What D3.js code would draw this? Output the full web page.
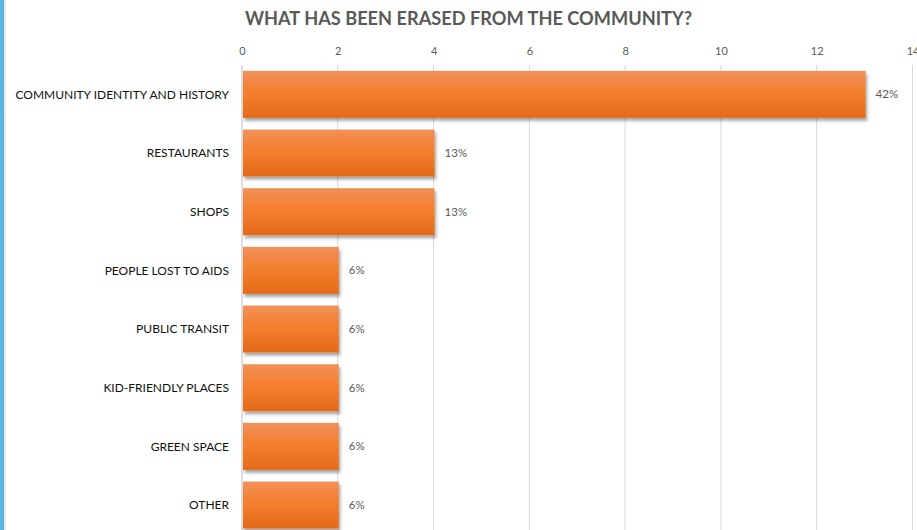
<!DOCTYPE html>
<html>
<head>
<meta charset="utf-8">
<script src="https://cdn.jsdelivr.net/npm/d3@7"></script>
<style>
  html, body { margin: 0; padding: 0; background: #fff; }
  svg { display: block; }
</style>
</head>
<body>
<svg id="chart" width="917" height="530"></svg>
<script>
// Responses: what has been erased from the community
const categories = [
  "COMMUNITY IDENTITY AND HISTORY",
  "RESTAURANTS",
  "SHOPS",
  "PEOPLE LOST TO AIDS",
  "PUBLIC TRANSIT",
  "KID-FRIENDLY PLACES",
  "GREEN SPACE",
  "OTHER"
];
const counts = [13, 4, 4, 2, 2, 2, 2, 2];
const xTicks = [0, 2, 4, 6, 8, 10, 12, 14];
const title = "WHAT HAS BEEN ERASED FROM THE COMMUNITY?";

const W = 917, H = 530;
const margin = { left: 242, right: 5, top: 65 };
const svg = d3.select("#chart");

// left accent strip
svg.append("rect").attr("x", 0).attr("y", 0).attr("width", 4).attr("height", H).attr("fill", "#5AB4E3");
svg.append("rect").attr("x", 4).attr("y", 0).attr("width", 1.5).attr("height", H).attr("fill", "#e3e3e3");

const defs = svg.append("defs");
const grad = defs.append("linearGradient").attr("id", "barGrad")
  .attr("x1", 0).attr("y1", 0).attr("x2", 0).attr("y2", 1);
grad.append("stop").attr("offset", "0%").attr("stop-color", "#F1905A");
grad.append("stop").attr("offset", "45%").attr("stop-color", "#F47F2E");
grad.append("stop").attr("offset", "100%").attr("stop-color", "#E36A17");

const shadow = defs.append("filter").attr("id", "barShadow")
  .attr("x", "-5%").attr("y", "-20%").attr("width", "115%").attr("height", "150%");
shadow.append("feDropShadow").attr("dx", 1.5).attr("dy", 3).attr("stdDeviation", 1.8)
  .attr("flood-color", "#000").attr("flood-opacity", 0.35);

const x = d3.scaleLinear().domain([0, 14]).range([margin.left, 912.5]);
const y = d3.scaleBand().domain(categories)
  .range([margin.top, margin.top + 8 * 58.67])
  .paddingInner(0.2).paddingOuter(0.1);

// title
svg.append("text")
  .attr("x", 468.5).attr("y", 25)
  .attr("text-anchor", "middle")
  .attr("font-family", "Lato, 'Open Sans', sans-serif")
  .attr("font-weight", "bold")
  .attr("font-size", 18.2)
  .attr("fill", "#595959")
  .text(title);

// vertical gridlines
svg.append("g").selectAll("line").data(xTicks.slice(1)).join("line")
  .attr("x1", d => x(d)).attr("x2", d => x(d))
  .attr("y1", margin.top).attr("y2", H)
  .attr("stroke", "#d9d9d9").attr("stroke-width", 1);

// top axis tick labels
const axis = d3.axisTop(x).tickValues(xTicks).tickSize(0).tickPadding(0);
const gAxis = svg.append("g").attr("transform", "translate(0,55)").call(axis);
gAxis.select(".domain").remove();
gAxis.selectAll("text")
  .attr("font-family", "Lato, sans-serif")
  .attr("font-size", 11)
  .attr("fill", "#595959");

// category axis line
svg.append("line")
  .attr("x1", x(0)).attr("x2", x(0)).attr("y1", margin.top).attr("y2", H)
  .attr("stroke", "#bfbfbf").attr("stroke-width", 1);

// bars
svg.append("g").selectAll("rect").data(categories).join("rect")
  .attr("x", x(0) + 1)
  .attr("y", d => y(d))
  .attr("width", (d, i) => x(counts[i]) - x(0))
  .attr("height", y.bandwidth())
  .attr("fill", "url(#barGrad)")
  .attr("filter", "url(#barShadow)");

// category labels
svg.append("g").selectAll("text").data(categories).join("text")
  .attr("x", 229)
  .attr("y", d => y(d) + y.bandwidth() / 2)
  .attr("dy", "0.35em")
  .attr("text-anchor", "end")
  .attr("font-family", "Lato, sans-serif")
  .attr("font-size", 12)
  .attr("fill", "#111")
  .text(d => d);

// percentage labels
const total = d3.sum(counts);
const pct = d3.format(".0%");
svg.append("g").selectAll("text").data(categories).join("text")
  .attr("x", (d, i) => x(counts[i]) + 11)
  .attr("y", d => y(d) + y.bandwidth() / 2)
  .attr("dy", "0.35em")
  .attr("font-family", "Lato, sans-serif")
  .attr("font-size", 11.5)
  .attr("fill", "#595959")
  .text((d, i) => pct(counts[i] / total));
</script>
</body>
</html>
